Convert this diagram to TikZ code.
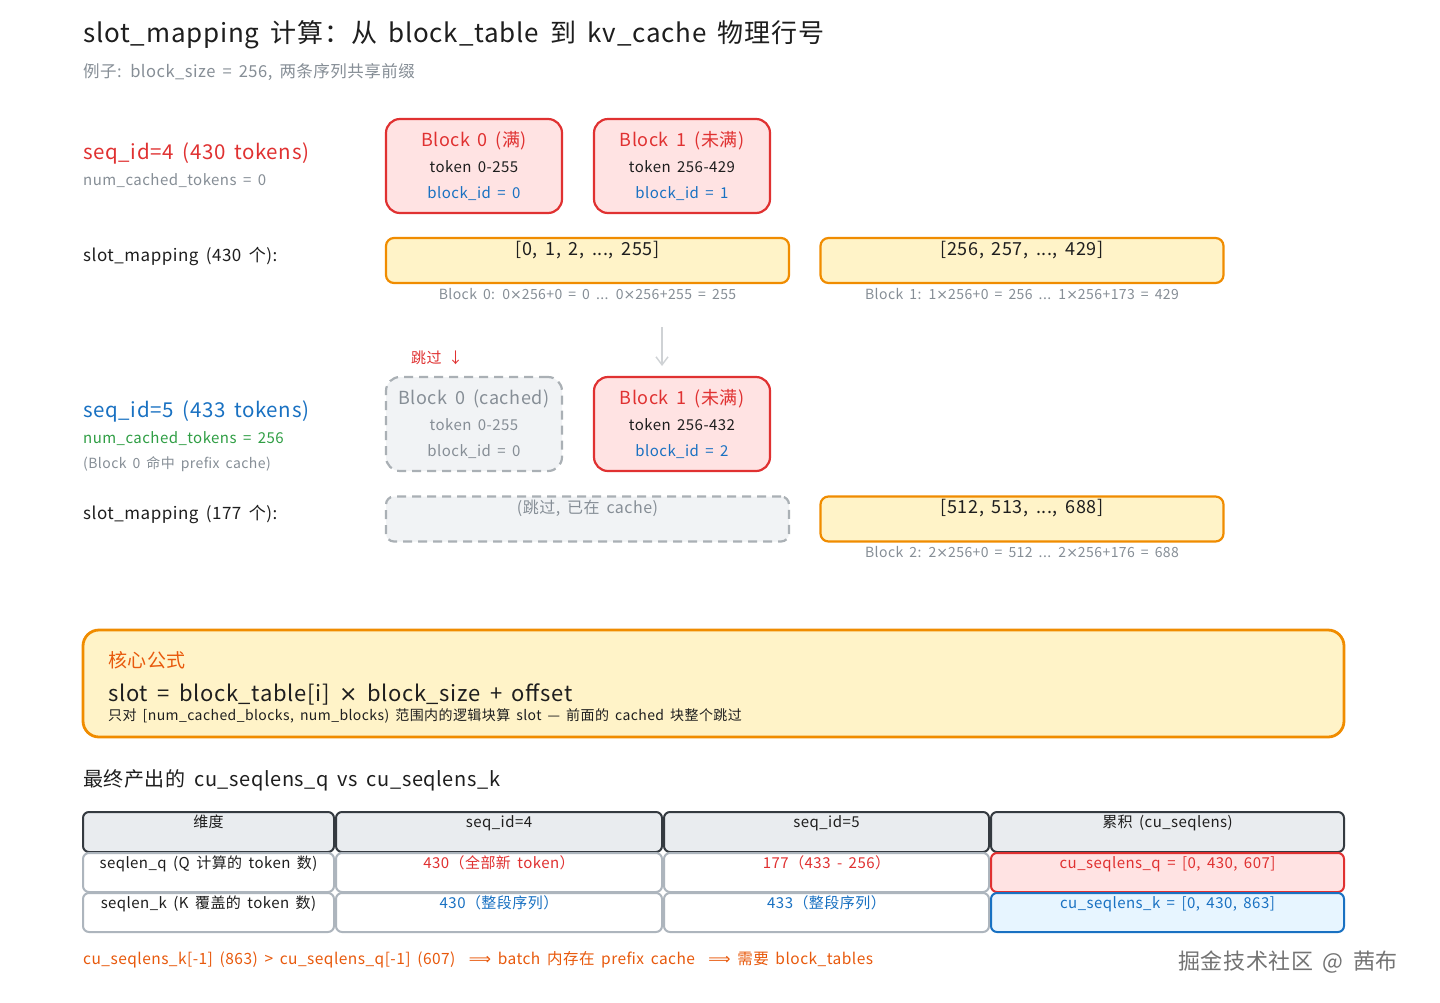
\documentclass[tikz,border=0pt]{standalone}
\usepackage{fontspec}
\setmainfont{Noto Sans CJK SC}[WordSpace=1.7, LetterSpace=3]
\newfontfamily\symfont{DejaVu Sans}
\definecolor{inkblack}{HTML}{1E1E1E}
\definecolor{inkred}{HTML}{E03131}
\definecolor{inkblue}{HTML}{1971C2}
\definecolor{inkgreen}{HTML}{2F9E44}
\definecolor{inkgray}{HTML}{868E96}
\definecolor{inkorange}{HTML}{E8590C}
\definecolor{amber}{HTML}{F08C00}
\definecolor{paleyellow}{HTML}{FFF3C8}
\definecolor{palered}{HTML}{FFE3E3}
\definecolor{paleblue}{HTML}{E7F5FF}
\definecolor{palegray}{HTML}{F1F3F5}
\definecolor{headgray}{HTML}{E9ECEF}
\definecolor{darkedge}{HTML}{343A40}
\definecolor{lightedge}{HTML}{ADB5BD}
\usepackage{tikz}
\usetikzlibrary{arrows.meta,positioning}
\newcommand{\fsz}[2]{\fontsize{#1}{#2}\selectfont}
\newcommand{\tms}{{\symfont\char"00D7}}

\begin{document}
\begin{tikzpicture}[
  x=1pt, y=-1pt,
  lefttext/.style={anchor=west, inner sep=0pt, text=inkblack},
  block/.style={rectangle, draw=inkred, fill=palered, line width=2.2pt,
    rounded corners=14pt, minimum width=176pt, minimum height=94pt,
    align=center, font=\fsz{15}{26}, text=inkblack},
  cachedblock/.style={block, draw=inkgray!70, fill=palegray,
    dash pattern=on 9pt off 6pt, text=inkgray},
  slotbox/.style={rectangle, draw=amber, fill=paleyellow, line width=2.2pt,
    rounded corners=8pt, minimum width=403pt, minimum height=45pt,
    font=\fsz{18}{22}, text=inkblack, text height=13pt, text depth=24pt},
  skipbox/.style={slotbox, draw=inkgray!70, fill=palegray,
    dash pattern=on 9pt off 6pt, text=inkgray, font=\fsz{16}{20}},
  calcnote/.style={font=\fsz{14}{17}, text=inkgray, inner sep=1pt},
  headcell/.style={rectangle, draw=darkedge, fill=headgray, line width=2pt,
    rounded corners=6pt, minimum height=40pt, font=\fsz{15}{18},
    text=inkblack, text height=11pt, text depth=20pt},
  cell/.style={headcell, draw=lightedge, fill=white, minimum height=39pt},
]
  \fill[white] (0,0) rectangle (1440,1002);
  \useasboundingbox (0,0) rectangle (1440,1002);

  % title
  \node[lefttext, font=\fsz{26}{30}] (title) at (83,35)
    {slot\_mapping 计算：从 block\_table 到 kv\_cache 物理行号};
  \node[lefttext, text=inkgray, font=\fsz{16.5}{19}] (subtitle) at (83,72)
    {例子: block\_size = 256, 两条序列共享前缀};

  % seq_id=4
  \node[lefttext, text=inkred, font=\fsz{20.5}{24}] (seqA) at (83,153)
    {seq\_id=4 (430 tokens)};
  \node[lefttext, text=inkgray, font=\fsz{15}{18}] (seqAcache) at (83,181)
    {num\_cached\_tokens = 0};
  \node[block] (blkA0) at (474,166)
    {{\fsz{18}{26}\textcolor{inkred}{Block 0 (满)}}\\token 0-255\\
     \textcolor{inkblue}{block\_id = 0}};
  \node[block] (blkA1) at (682,166)
    {{\fsz{18}{26}\textcolor{inkred}{Block 1 (未满)}}\\token 256-429\\
     \textcolor{inkblue}{block\_id = 1}};

  \node[lefttext, font=\fsz{17}{20}] (mapA) at (83,256) {slot\_mapping (430 个):};
  \node[slotbox] (slotA0) at (587.5,260.5) {[0, 1, 2, ..., 255]};
  \node[slotbox] (slotA1) at (1022,260.5) {[256, 257, ..., 429]};
  \node[calcnote, below=3pt of slotA0] (noteA0)
    {Block 0: 0\tms256+0 = 0 ... 0\tms256+255 = 255};
  \node[calcnote, below=3pt of slotA1] (noteA1)
    {Block 1: 1\tms256+0 = 256 ... 1\tms256+173 = 429};

  % seq_id=5
  \coordinate (dropA) at (662,327);
  \coordinate (dropB) at (662,366);
  \draw[-{Straight Barb[length=8pt,width=12pt]}, draw=inkgray!40,
    line width=1.4pt] (dropA) -- (dropB);
  \node[lefttext, text=inkred, font=\fsz{15}{18}] (skiplbl) at (411,358) {跳过 ↓};

  \node[lefttext, text=inkblue, font=\fsz{20.5}{24}] (seqB) at (83,411)
    {seq\_id=5 (433 tokens)};
  \node[lefttext, text=inkgreen, font=\fsz{15}{18}] (seqBcache) at (83,439)
    {num\_cached\_tokens = 256};
  \node[lefttext, text=inkgray, font=\fsz{14}{17}] (seqBhit) at (83,464)
    {(Block 0 命中 prefix cache)};
  \node[cachedblock] (blkB0) at (474,424)
    {{\fsz{18}{26}Block 0 (cached)}\\token 0-255\\block\_id = 0};
  \node[block] (blkB1) at (682,424)
    {{\fsz{18}{26}\textcolor{inkred}{Block 1 (未满)}}\\token 256-432\\
     \textcolor{inkblue}{block\_id = 2}};

  \node[lefttext, font=\fsz{17}{20}] (mapB) at (83,514) {slot\_mapping (177 个):};
  \node[skipbox] (slotB0) at (587.5,519) {(跳过, 已在 cache)};
  \node[slotbox] (slotB1) at (1022,519) {[512, 513, ..., 688]};
  \node[calcnote, below=3pt of slotB1] (noteB1)
    {Block 2: 2\tms256+0 = 512 ... 2\tms256+176 = 688};

  % core formula
  \node[rectangle, draw=amber, fill=paleyellow, line width=2.8pt,
    rounded corners=16pt, minimum width=1261pt, minimum height=107pt]
    (core) at (713.5,683.5) {};
  \node[lefttext, text=inkorange, font=\fsz{19}{22}] (coretitle) at (108,660) {核心公式};
  \node[lefttext, font=\fsz{22}{26}] (coreeq) at (108,694)
    {slot = block\_table[i] \tms\ block\_size + offset};
  \node[lefttext, font=\fsz{14}{17}] (corenote) at (108,716)
    {只对 [num\_cached\_blocks, num\_blocks) 范围内的逻辑块算 slot — 前面的 cached 块整个跳过};

  % result table
  \node[lefttext, font=\fsz{20}{24}] (tabtitle) at (83,780)
    {最终产出的 cu\_seqlens\_q vs cu\_seqlens\_k};

  \node[headcell, minimum width=251pt] (h0) at (208.5,832) {维度};
  \node[headcell, minimum width=326pt] (h1) at (499,832) {seq\_id=4};
  \node[headcell, minimum width=325pt] (h2) at (826.5,832) {seq\_id=5};
  \node[headcell, minimum width=353pt] (h3) at (1167.5,832) {累积 (cu\_seqlens)};

  \node[cell, minimum width=251pt] (q0) at (208.5,872.5) {seqlen\_q (Q 计算的 token 数)};
  \node[cell, minimum width=326pt, text=inkred] (q1) at (499,872.5) {430（全部新 token）};
  \node[cell, minimum width=325pt, text=inkred] (q2) at (826.5,872.5) {177（433 - 256）};
  \node[cell, minimum width=353pt, draw=inkred, fill=palered, text=inkred] (q3)
    at (1167.5,872.5) {cu\_seqlens\_q = [0, 430, 607]};

  \node[cell, minimum width=251pt] (k0) at (208.5,912.5) {seqlen\_k (K 覆盖的 token 数)};
  \node[cell, minimum width=326pt, text=inkblue] (k1) at (499,912.5) {430（整段序列）};
  \node[cell, minimum width=325pt, text=inkblue] (k2) at (826.5,912.5) {433（整段序列）};
  \node[cell, minimum width=353pt, draw=inkblue, fill=paleblue, text=inkblue] (k3)
    at (1167.5,912.5) {cu\_seqlens\_k = [0, 430, 863]};

  \node[lefttext, text=inkorange, font=\fsz{15.5}{18}] (verdict) at (83,960)
    {cu\_seqlens\_k[-1] (863) > cu\_seqlens\_q[-1] (607) \ {\symfont ⟹}\ batch 内存在 prefix cache \ {\symfont ⟹}\ 需要 block\_tables};

  \node[lefttext, text=black!55, font=\fsz{22}{26}] (mark) at (1178,962) {掘金技术社区 @ 茜布};
\end{tikzpicture}
\end{document}
